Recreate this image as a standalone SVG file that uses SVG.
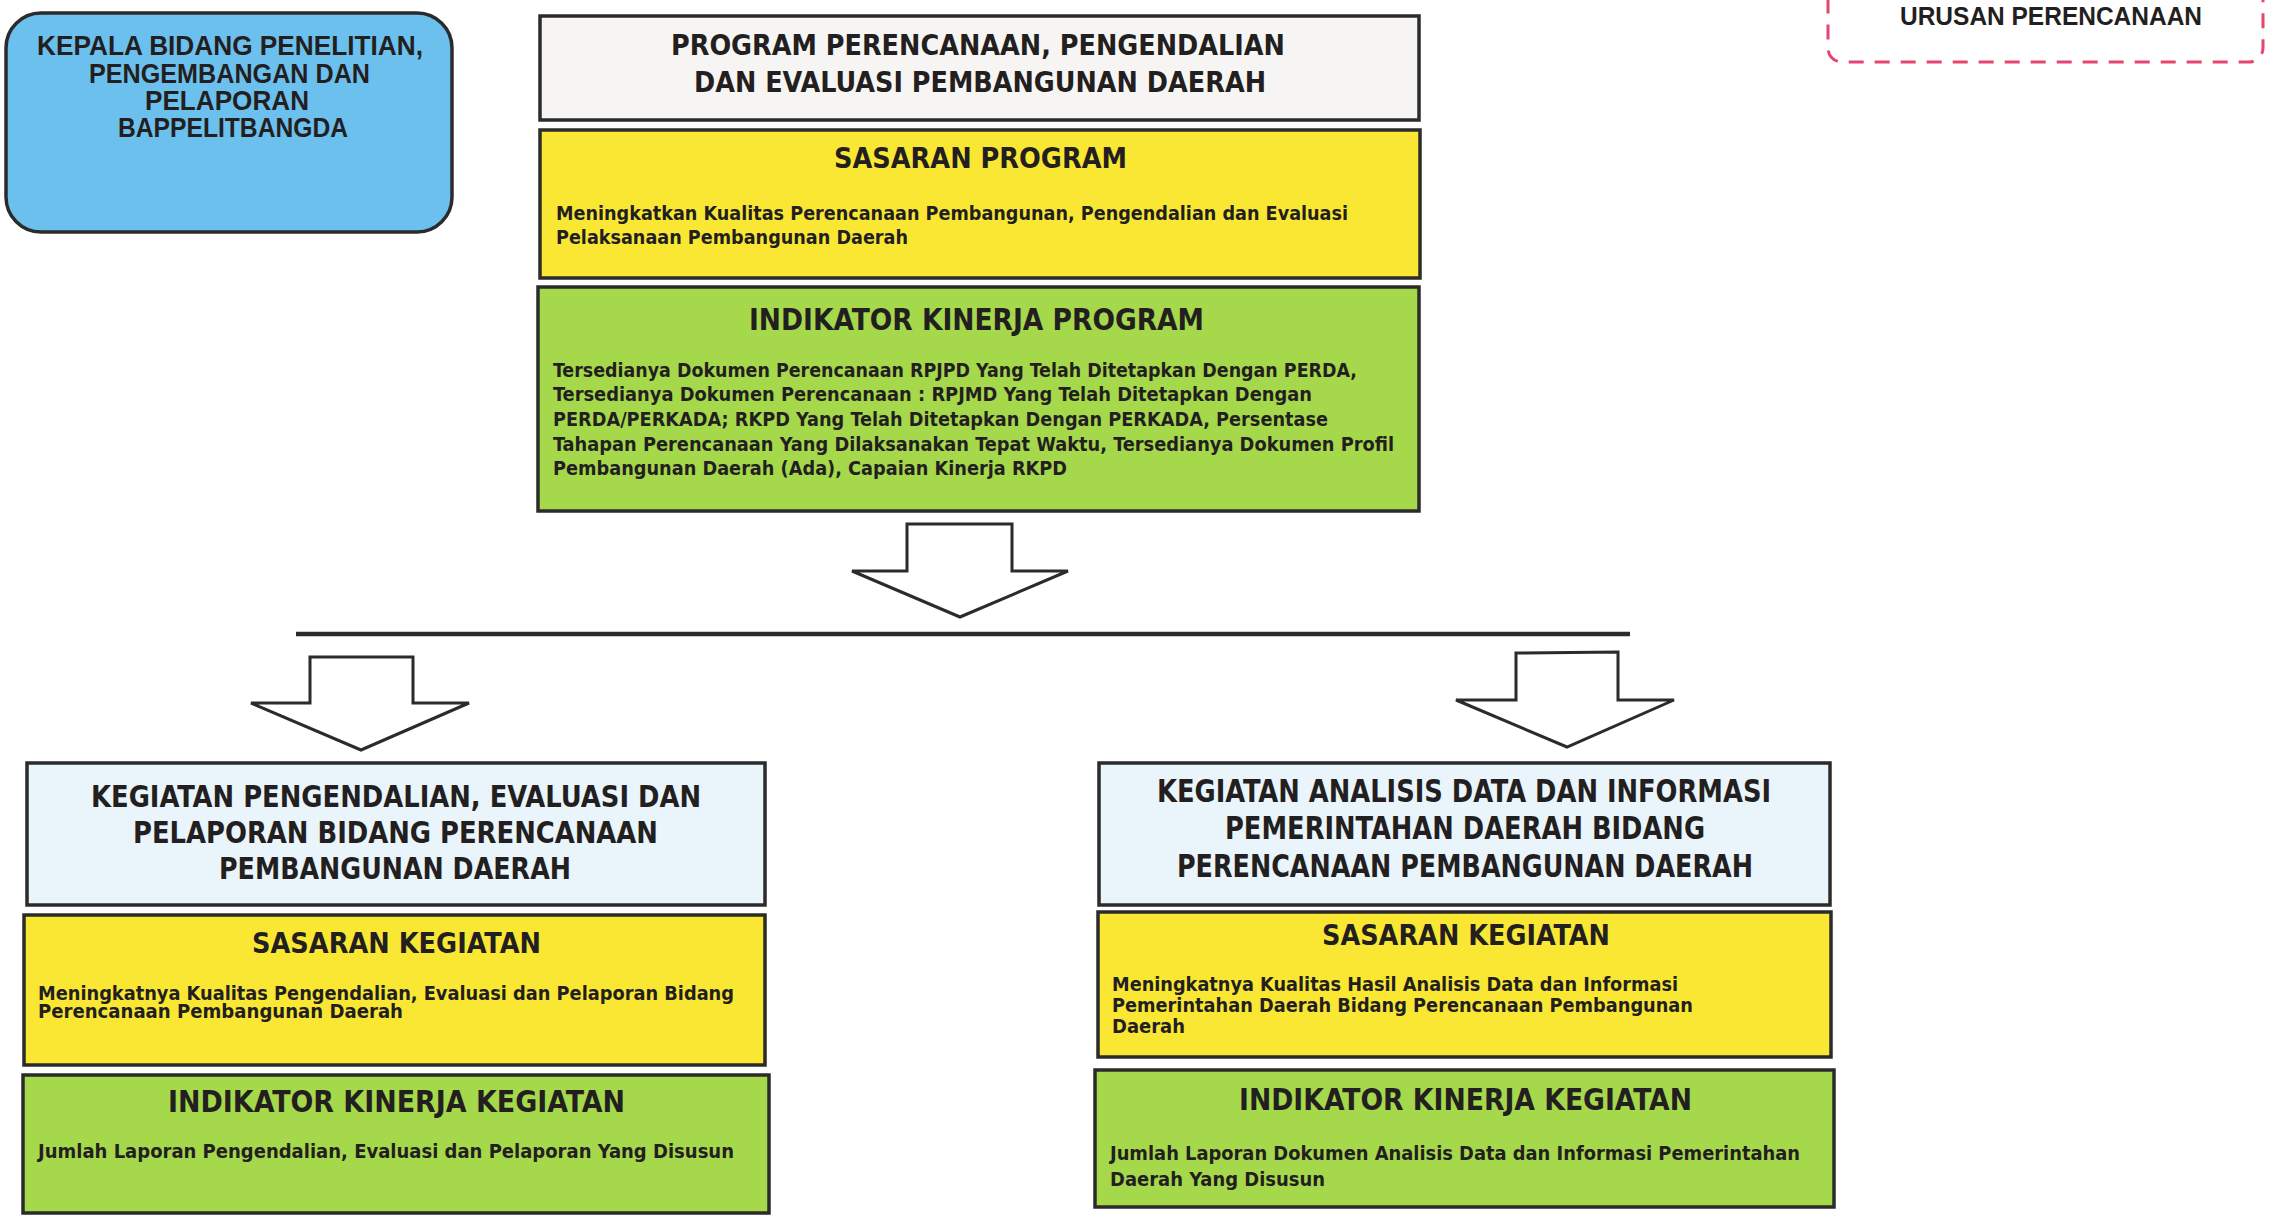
<svg xmlns="http://www.w3.org/2000/svg" width="2271" height="1217" viewBox="0 0 2271 1217">
<defs>
<style>
.box{stroke:#2b2b2b;stroke-width:3.5}
.white{fill:#f7f5f3}
.pale{fill:#e9f4fb}
.yellow{fill:#f9e734}
.green{fill:#a6d84b}
.blue{fill:#6cc0ee}
.t{font-family:"Liberation Sans Narrow","DejaVu Sans Condensed","Liberation Sans",sans-serif;font-weight:bold;fill:#231f20}
.w{font-family:"Liberation Sans","DejaVu Sans",sans-serif;font-weight:bold;fill:#231f20}
.arrow{fill:#ffffff;stroke:#2b2b2b;stroke-width:3;stroke-linejoin:miter}
</style>
</defs>
<rect width="2271" height="1217" fill="#ffffff"/>

<g id="kepala-bidang">
<rect class="box blue" x="6" y="13" width="446" height="219" rx="35" ry="35"/>
<text class="w" font-size="28" x="37" y="55" textLength="386" lengthAdjust="spacingAndGlyphs">KEPALA BIDANG PENELITIAN,</text>
<text class="w" font-size="28" x="89" y="83" textLength="281" lengthAdjust="spacingAndGlyphs">PENGEMBANGAN DAN</text>
<text class="w" font-size="28" x="145" y="110" textLength="164" lengthAdjust="spacingAndGlyphs">PELAPORAN</text>
<text class="w" font-size="28" x="118" y="137" textLength="230" lengthAdjust="spacingAndGlyphs">BAPPELITBANGDA</text>
</g>

<g id="urusan-perencanaan">
<rect x="1828" y="-40" width="435" height="102" rx="14" ry="14" fill="none" stroke="#e8456e" stroke-width="3" stroke-dasharray="15 11"/>
<text class="w" font-size="25" x="1900" y="25" textLength="302" lengthAdjust="spacingAndGlyphs">URUSAN PERENCANAAN</text>
</g>

<g id="program">
<rect class="box white" x="540" y="16" width="879" height="104"/>
<text class="t" font-size="28" x="671" y="55" textLength="614" lengthAdjust="spacingAndGlyphs">PROGRAM PERENCANAAN, PENGENDALIAN</text>
<text class="t" font-size="28" x="694" y="92" textLength="572" lengthAdjust="spacingAndGlyphs">DAN EVALUASI PEMBANGUNAN DAERAH</text>
</g>

<g id="sasaran-program">
<rect class="box yellow" x="540" y="130" width="880" height="148"/>
<text class="t" font-size="28" x="834" y="168" textLength="293" lengthAdjust="spacingAndGlyphs">SASARAN PROGRAM</text>
<text class="t" font-size="19" x="556" y="220" textLength="792" lengthAdjust="spacingAndGlyphs">Meningkatkan Kualitas Perencanaan Pembangunan, Pengendalian dan Evaluasi</text>
<text class="t" font-size="19" x="556" y="244" textLength="352" lengthAdjust="spacingAndGlyphs">Pelaksanaan Pembangunan Daerah</text>
</g>

<g id="indikator-program">
<rect class="box green" x="538" y="287" width="881" height="224"/>
<text class="t" font-size="30" x="749" y="330" textLength="455" lengthAdjust="spacingAndGlyphs">INDIKATOR KINERJA PROGRAM</text>
<text class="t" font-size="20" x="553" y="377" textLength="804" lengthAdjust="spacingAndGlyphs">Tersedianya Dokumen Perencanaan RPJPD Yang Telah Ditetapkan Dengan PERDA,</text>
<text class="t" font-size="20" x="553" y="401" textLength="759" lengthAdjust="spacingAndGlyphs">Tersedianya Dokumen Perencanaan : RPJMD Yang Telah Ditetapkan Dengan</text>
<text class="t" font-size="20" x="553" y="426" textLength="775" lengthAdjust="spacingAndGlyphs">PERDA/PERKADA; RKPD Yang Telah Ditetapkan Dengan PERKADA, Persentase</text>
<text class="t" font-size="20" x="553" y="451" textLength="841" lengthAdjust="spacingAndGlyphs">Tahapan Perencanaan Yang Dilaksanakan Tepat Waktu, Tersedianya Dokumen Profil</text>
<text class="t" font-size="20" x="553" y="475" textLength="514" lengthAdjust="spacingAndGlyphs">Pembangunan Daerah (Ada), Capaian Kinerja RKPD</text>
</g>

<g id="connectors">
<polygon class="arrow" points="907,524 1012,524 1012,571 1068,571 960,617 852,571 907,571"/>
<line x1="296" y1="634" x2="1630" y2="634" stroke="#2b2b2b" stroke-width="4.5"/>
<polygon class="arrow" points="310,657 413,657 413,703 469,703 361,750 251,703 310,703"/>
<polygon class="arrow" points="1516,653 1618,652 1618,700 1674,700 1567,747 1456,700 1516,700"/>
</g>

<g id="kegiatan-pengendalian">
<rect class="box pale" x="27" y="763" width="738" height="142"/>
<text class="t" font-size="31" x="91" y="807" textLength="610" lengthAdjust="spacingAndGlyphs">KEGIATAN PENGENDALIAN, EVALUASI DAN</text>
<text class="t" font-size="31" x="133" y="843" textLength="525" lengthAdjust="spacingAndGlyphs">PELAPORAN BIDANG PERENCANAAN</text>
<text class="t" font-size="31" x="219" y="879" textLength="352" lengthAdjust="spacingAndGlyphs">PEMBANGUNAN DAERAH</text>
</g>

<g id="sasaran-kegiatan-pengendalian">
<rect class="box yellow" x="24" y="915" width="741" height="150"/>
<text class="t" font-size="28" x="252" y="953" textLength="289" lengthAdjust="spacingAndGlyphs">SASARAN KEGIATAN</text>
<text class="t" font-size="19" x="38" y="1000" textLength="696" lengthAdjust="spacingAndGlyphs">Meningkatnya Kualitas Pengendalian, Evaluasi dan Pelaporan Bidang</text>
<text class="t" font-size="19" x="38" y="1018" textLength="365" lengthAdjust="spacingAndGlyphs">Perencanaan Pembangunan Daerah</text>
</g>

<g id="indikator-kegiatan-pengendalian">
<rect class="box green" x="23" y="1075" width="746" height="138"/>
<text class="t" font-size="30" x="168" y="1112" textLength="457" lengthAdjust="spacingAndGlyphs">INDIKATOR KINERJA KEGIATAN</text>
<text class="t" font-size="19" x="38" y="1158" textLength="696" lengthAdjust="spacingAndGlyphs">Jumlah Laporan Pengendalian, Evaluasi dan Pelaporan Yang Disusun</text>
</g>

<g id="kegiatan-analisis">
<rect class="box pale" x="1099" y="763" width="731" height="142"/>
<text class="t" font-size="32" x="1157" y="802" textLength="614" lengthAdjust="spacingAndGlyphs">KEGIATAN ANALISIS DATA DAN INFORMASI</text>
<text class="t" font-size="32" x="1225" y="839" textLength="480" lengthAdjust="spacingAndGlyphs">PEMERINTAHAN DAERAH BIDANG</text>
<text class="t" font-size="32" x="1177" y="877" textLength="576" lengthAdjust="spacingAndGlyphs">PERENCANAAN PEMBANGUNAN DAERAH</text>
</g>

<g id="sasaran-kegiatan-analisis">
<rect class="box yellow" x="1098" y="912" width="733" height="145"/>
<text class="t" font-size="28" x="1322" y="945" textLength="288" lengthAdjust="spacingAndGlyphs">SASARAN KEGIATAN</text>
<text class="t" font-size="19" x="1112" y="991" textLength="566" lengthAdjust="spacingAndGlyphs">Meningkatnya Kualitas Hasil Analisis Data dan Informasi</text>
<text class="t" font-size="19" x="1112" y="1012" textLength="581" lengthAdjust="spacingAndGlyphs">Pemerintahan Daerah Bidang Perencanaan Pembangunan</text>
<text class="t" font-size="19" x="1112" y="1033" textLength="73" lengthAdjust="spacingAndGlyphs">Daerah</text>
</g>

<g id="indikator-kegiatan-analisis">
<rect class="box green" x="1095" y="1070" width="739" height="137"/>
<text class="t" font-size="30" x="1239" y="1110" textLength="453" lengthAdjust="spacingAndGlyphs">INDIKATOR KINERJA KEGIATAN</text>
<text class="t" font-size="19" x="1110" y="1160" textLength="690" lengthAdjust="spacingAndGlyphs">Jumlah Laporan Dokumen Analisis Data dan Informasi Pemerintahan</text>
<text class="t" font-size="19" x="1110" y="1186" textLength="215" lengthAdjust="spacingAndGlyphs">Daerah Yang Disusun</text>
</g>
</svg>
